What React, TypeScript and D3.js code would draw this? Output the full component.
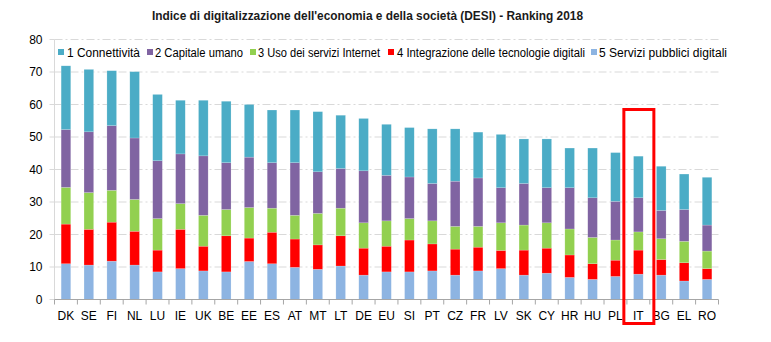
import React from "react";
import * as d3 from "d3";

const categories = ["DK","SE","FI","NL","LU","IE","UK","BE","EE","ES","AT","MT","LT","DE","EU","SI","PT","CZ","FR","LV","SK","CY","HR","HU","PL","IT","BG","EL","RO"];
const servizi =      [11.0,10.6,11.8,10.6,8.5,9.5,8.8,8.5,11.7,11.0,9.9,9.3,10.3,7.5,8.5,8.5,8.8,7.5,8.8,9.5,7.5,8.1,6.8,6.2,7.1,7.8,7.5,5.7,6.2];
const integrazione = [12.2,11.0,12.0,10.4,6.7,12.1,7.6,11.1,7.2,9.7,8.7,7.5,9.3,8.3,7.9,9.8,8.3,8.0,7.3,5.6,7.7,7.7,6.9,4.8,5.0,7.4,4.8,5.6,3.3];
const usoInternet =  [11.3,11.3,9.8,9.8,9.7,7.9,9.5,8.1,9.4,7.4,7.3,9.7,8.5,7.8,7.8,6.6,7.1,7.0,6.4,8.5,7.7,7.8,8.0,8.1,6.2,5.6,6.4,6.6,5.4];
const capitale =     [17.8,18.7,19.9,18.9,17.8,15.3,18.3,14.4,15.5,14.0,16.2,12.8,12.2,16.0,14.0,12.8,11.5,13.9,14.9,10.8,12.8,10.8,12.7,12.2,11.9,10.5,8.7,9.8,8.0];
const connettivita = [19.6,19.2,16.9,20.4,20.4,16.5,17.1,18.9,16.2,16.2,16.2,18.5,16.4,16.1,15.7,15.2,16.8,16.1,14.1,16.4,13.7,15.0,12.2,15.3,15.0,12.8,13.6,10.9,14.7];
const yTicks = [0,10,20,30,40,50,60,70,80];
const seriesNames = ["1 Connettività","2 Capitale umano","3 Uso dei servizi Internet","4 Integrazione delle tecnologie digitali","5 Servizi pubblici digitali"];
const highlight = "IT";
const title = "Indice di digitalizzazione dell'economia e della società (DESI) - Ranking 2018";

const keys = ["servizi","integrazione","usoInternet","capitale","connettivita"];
const colors: Record<string,string> = {
  connettivita: "#4bacc6",
  capitale: "#8064a2",
  usoInternet: "#92d050",
  integrazione: "#ff0000",
  servizi: "#8db4e2",
};
const legendKeys = ["connettivita","capitale","usoInternet","integrazione","servizi"];
const legendLayout = [
  { mx: 58, tx: 67, tw: 73 },
  { mx: 147, tx: 155, tw: 88 },
  { mx: 250, tx: 258, tw: 122 },
  { mx: 388, tx: 397, tw: 188 },
  { mx: 591, tx: 599, tw: 128 },
];

export default function App() {
  const W = 771, H = 342;
  const font = "'Liberation Sans', Arial, sans-serif";
  const rows = categories.map((c, i) => ({
    cat: c,
    servizi: servizi[i],
    integrazione: integrazione[i],
    usoInternet: usoInternet[i],
    capitale: capitale[i],
    connettivita: connettivita[i],
  }));
  const stacked = d3.stack<any>().keys(keys)(rows);
  const x = d3.scaleBand<string>().domain(categories).range([54.5, 718.5]).paddingInner(0.58).paddingOuter(0.29);
  const y = d3.scaleLinear().domain([0, 80]).range([299.5, 39.5]);
  const step = x.step();
  const x0 = 54.5, x1 = 718.5;

  const hx = (x(highlight) as number) + x.bandwidth() / 2;

  return (
    <svg width={W} height={H} style={{ position: "absolute", left: 0, top: 0, background: "#fff" }} fontFamily={font}>
      <rect x={0} y={0} width={W} height={H} fill="#fff" />
      <text x={367.5} y={20} textAnchor="middle" fontSize={13} fontWeight="bold" fill="#1a1a1a" textLength={431} lengthAdjust="spacingAndGlyphs">{title}</text>
      {yTicks.filter(t => t > 0).map(t => (
        <line key={"g" + t} x1={x0} x2={x1} y1={y(t)} y2={y(t)} stroke="#d9d9d9" strokeWidth={1} strokeDasharray="8,3,2,3" />
      ))}
      <line x1={x0} x2={x0} y1={y(80)} y2={y(0)} stroke="#d9d9d9" strokeWidth={1} />
      {yTicks.map(t => (
        <g key={"yt" + t}>
          <line x1={x0 - 5} x2={x0} y1={y(t)} y2={y(t)} stroke="#d9d9d9" />
          <text x={42.5} y={y(t) + 4.2} textAnchor="end" fontSize={12} fill="#000">{t}</text>
        </g>
      ))}
      {stacked.map(s => (
        <g key={s.key} fill={colors[s.key]}>
          {s.map((d: any, i: number) => (
            <rect key={i} x={x(d.data.cat)} y={y(d[1])} width={x.bandwidth()} height={y(d[0]) - y(d[1])} stroke="#ffffff" strokeOpacity={0.35} strokeWidth={0.5} />
          ))}
        </g>
      ))}
      <line x1={x0} x2={x1} y1={y(0)} y2={y(0)} stroke="#a6a6a6" strokeWidth={1} />
      {d3.range(categories.length + 1).map(i => (
        <line key={"xt" + i} x1={x0 + i * step} x2={x0 + i * step} y1={y(0)} y2={y(0) + 5} stroke="#a6a6a6" />
      ))}
      {categories.map(c => (
        <text key={"xl" + c} x={(x(c) as number) + x.bandwidth() / 2} y={320} textAnchor="middle" fontSize={12} fill="#000">{c}</text>
      ))}
      {legendKeys.map((k, i) => (
        <g key={"lg" + k}>
          <rect x={legendLayout[i].mx} y={49} width={6} height={6} fill={colors[k]} />
          <text x={legendLayout[i].tx} y={56.5} fontSize={12} fill="#000" textLength={legendLayout[i].tw} lengthAdjust="spacingAndGlyphs">{seriesNames[i]}</text>
        </g>
      ))}
      <rect x={hx - 14.5} y={109.5} width={30} height={214} fill="none" stroke="#ff0000" strokeWidth={3} />
    </svg>
  );
}
